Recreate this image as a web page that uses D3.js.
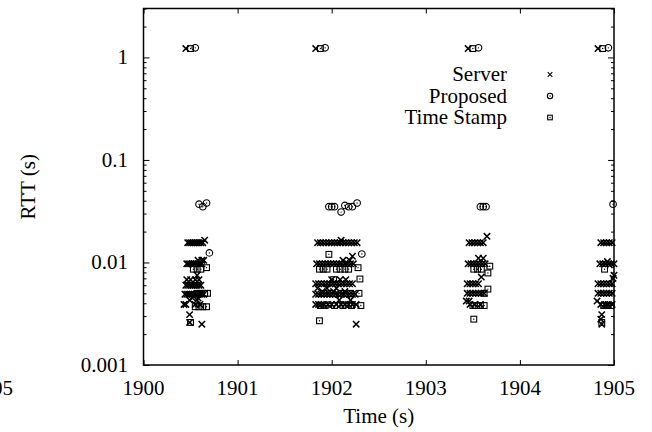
<!DOCTYPE html>
<html><head><meta charset="utf-8">
<script src="https://cdn.jsdelivr.net/npm/d3@7"></script>
<style>body{margin:0;background:#fff}svg{display:block}</style>
</head><body>
<svg id="c" width="652" height="432" font-family="'Liberation Serif', 'DejaVu Serif', 'Times New Roman', serif"></svg>
<script>
// ---- data ----
const xTicks = [1900, 1901, 1902, 1903, 1904, 1905];
const yTicks = [0.001, 0.01, 0.1, 1];
const yTickLabels = ["0.001", "0.01", "0.1", "1"];
const seriesNames = ["Server", "Proposed", "Time Stamp"];

const serverData = [
  // top
  [1900.45,1.22],[1901.83,1.22],[1903.45,1.22],[1904.83,1.22],
  // cluster 1
  [1900.47,0.0156],[1900.49,0.0156],[1900.51,0.0156],[1900.53,0.0156],[1900.55,0.0156],[1900.57,0.0156],[1900.59,0.0156],[1900.61,0.0156],[1900.63,0.0156],[1900.65,0.0165],
  [1900.46,0.0097],[1900.48,0.0097],[1900.50,0.0097],[1900.52,0.0097],[1900.54,0.0097],[1900.56,0.0097],[1900.58,0.0097],[1900.60,0.0097],[1900.62,0.0097],[1900.58,0.0105],[1900.62,0.0105],[1900.64,0.0105],
  [1900.46,0.0068],[1900.50,0.0068],[1900.55,0.0068],[1900.59,0.0068],[1900.57,0.0075],
  [1900.45,0.0060],[1900.47,0.0060],[1900.49,0.0060],[1900.51,0.0060],[1900.53,0.0060],[1900.55,0.0060],[1900.57,0.0060],[1900.59,0.0060],[1900.61,0.0060],
  [1900.44,0.0049],[1900.46,0.0049],[1900.48,0.0049],[1900.50,0.0049],[1900.52,0.0049],[1900.54,0.0049],[1900.56,0.0049],[1900.58,0.0049],[1900.60,0.0049],[1900.62,0.0049],[1900.64,0.0049],[1900.52,0.0045],[1900.58,0.0045],
  [1900.43,0.0039],[1900.45,0.0039],[1900.55,0.0039],[1900.60,0.0039],[1900.49,0.0043],[1900.57,0.0043],
  [1900.49,0.0031],[1900.49,0.0026],[1900.62,0.0025],
  // cluster 2
  [1901.85,0.0156],[1901.88,0.0156],[1901.91,0.0156],[1901.94,0.0156],[1901.97,0.0156],[1902.00,0.0156],[1902.03,0.0156],[1902.06,0.0156],[1902.09,0.0156],[1902.12,0.0156],[1902.15,0.0156],[1902.18,0.0156],[1902.21,0.0156],[1902.24,0.0156],[1902.27,0.0156],[1902.10,0.0165],
  [1901.84,0.0097],[1901.87,0.0097],[1901.90,0.0097],[1901.93,0.0097],[1901.96,0.0097],[1901.99,0.0097],[1902.02,0.0097],[1902.05,0.0097],[1902.08,0.0097],[1902.11,0.0097],[1902.14,0.0097],[1902.17,0.0097],[1902.20,0.0097],[1902.23,0.0097],[1902.12,0.0105],[1902.19,0.0105],[1902.22,0.0115],
  [1901.83,0.0062],[1901.86,0.0062],[1901.89,0.0062],[1901.92,0.0062],[1901.95,0.0062],[1901.98,0.0062],[1902.01,0.0062],[1902.04,0.0062],[1902.07,0.0062],[1902.10,0.0062],[1902.13,0.0062],[1902.16,0.0062],[1902.19,0.0062],[1902.22,0.0062],[1902.00,0.0068],[1902.09,0.0068],[1902.15,0.0068],[1901.85,0.0056],[1901.95,0.0056],[1902.05,0.0056],
  [1901.83,0.0049],[1901.86,0.0049],[1901.89,0.0049],[1901.92,0.0049],[1901.95,0.0049],[1901.98,0.0049],[1902.01,0.0049],[1902.04,0.0049],[1902.07,0.0049],[1902.10,0.0049],[1902.13,0.0049],[1902.16,0.0049],[1902.19,0.0049],[1902.22,0.0049],[1902.25,0.0049],[1901.90,0.0052],[1902.02,0.0052],[1902.14,0.0052],
  [1901.83,0.0039],[1901.86,0.0039],[1901.89,0.0039],[1901.92,0.0039],[1901.96,0.0039],[1902.00,0.0039],[1902.05,0.0039],[1902.10,0.0039],[1902.14,0.0039],[1902.18,0.0039],[1902.22,0.0039],[1902.26,0.0039],[1902.08,0.0043],[1902.20,0.0043],
  [1902.26,0.0025],
  // cluster 3
  [1903.46,0.0156],[1903.49,0.0156],[1903.52,0.0156],[1903.55,0.0156],[1903.58,0.0156],[1903.61,0.0156],[1903.65,0.0180],
  [1903.45,0.0097],[1903.48,0.0097],[1903.51,0.0097],[1903.54,0.0097],[1903.57,0.0097],[1903.60,0.0097],[1903.63,0.0097],[1903.56,0.0110],[1903.61,0.0110],
  [1903.44,0.0062],[1903.47,0.0062],[1903.50,0.0062],[1903.53,0.0062],[1903.56,0.0062],[1903.59,0.0072],
  [1903.44,0.0050],[1903.47,0.0050],[1903.50,0.0050],[1903.53,0.0050],[1903.56,0.0050],[1903.59,0.0050],[1903.62,0.0050],
  [1903.43,0.0042],[1903.46,0.0042],
  [1903.47,0.0039],[1903.52,0.0039],[1903.58,0.0039],
  // cluster 4
  [1904.86,0.0156],[1904.89,0.0156],[1904.92,0.0156],[1904.95,0.0156],[1904.98,0.0156],
  [1904.85,0.0097],[1904.88,0.0097],[1904.91,0.0097],[1904.94,0.0097],[1904.97,0.0097],[1905.00,0.0097],[1904.93,0.0102],
  [1904.83,0.0062],[1904.86,0.0062],[1904.89,0.0062],[1904.92,0.0062],[1904.95,0.0062],[1904.98,0.0062],[1904.99,0.0070],[1905.00,0.0075],
  [1904.83,0.0050],[1904.86,0.0050],[1904.89,0.0050],[1904.92,0.0050],[1904.95,0.0050],[1904.98,0.0050],
  [1904.82,0.0042],
  [1904.86,0.0039],[1904.90,0.0039],[1904.94,0.0039],[1904.98,0.0039],
  [1904.87,0.0031],[1904.86,0.0028],[1904.87,0.0025]
];

const proposedData = [
  [1900.55,1.24],[1901.93,1.24],[1903.56,1.24],[1904.94,1.24],
  [1900.59,0.037],[1900.63,0.035],[1900.67,0.038],[1900.70,0.0124],
  [1901.97,0.035],[1902.00,0.035],[1902.03,0.035],[1902.10,0.031],[1902.14,0.036],[1902.18,0.035],[1902.22,0.035],[1902.27,0.038],[1902.32,0.0121],
  [1903.58,0.035],[1903.61,0.035],[1903.64,0.035],
  [1904.99,0.037]
];

const timestampData = [
  [1900.50,1.22],[1901.88,1.22],[1903.50,1.22],[1904.88,1.22],
  [1900.53,0.0086],[1900.57,0.0086],[1900.61,0.0086],[1900.67,0.0089],
  [1900.57,0.0050],[1900.61,0.0050],[1900.65,0.0050],[1900.68,0.0050],
  [1900.55,0.0037],[1900.59,0.0037],[1900.63,0.0037],[1900.67,0.0037],
  [1900.50,0.0026],
  [1901.97,0.012],
  [1901.87,0.0086],[1901.91,0.0086],[1901.95,0.0086],[1902.05,0.0086],[1902.09,0.0086],[1902.14,0.0086],[1902.18,0.0086],[1902.28,0.0089],
  [1902.30,0.0069],[1902.02,0.0068],
  [1901.92,0.0050],[1902.00,0.0050],[1902.10,0.0050],[1902.20,0.0050],[1902.29,0.0050],
  [1901.88,0.0038],[1901.93,0.0038],[1902.03,0.0038],[1902.12,0.0038],[1902.21,0.0038],[1902.31,0.0038],
  [1901.87,0.0027],
  [1903.51,0.0086],[1903.55,0.0086],[1903.59,0.0086],[1903.68,0.0092],[1903.66,0.0079],
  [1903.66,0.0055],[1903.62,0.0050],
  [1903.50,0.0038],[1903.54,0.0038],[1903.58,0.0038],[1903.62,0.0038],
  [1903.51,0.0028],
  [1904.90,0.0086],
  [1904.89,0.0038],[1904.93,0.0038],[1904.97,0.0038],
  [1904.87,0.0026]
];

// ---- layout ----
const svg = d3.select("#c");
const FONT = "'Liberation Serif', 'DejaVu Serif', 'Times New Roman', serif";
const L = 143.5, R = 614, T = 8.5, B = 365;
const x = d3.scaleLinear().domain([1900, 1905]).range([L, R]);
const y = d3.scaleLog().domain([0.001, 3]).range([B, T]);
const FS = 21;

const minorY = [];
[0.001, 0.01, 0.1, 1].forEach(d => { for (let k = 2; k <= 9; k++) { const v = d * k; if (v <= 3) minorY.push(v); } });

const g = svg.append("g");
const leftMinor = d3.axisRight(y).tickValues(minorY).tickSize(3).tickFormat("");
const leftMajor = d3.axisRight(y).tickValues(yTicks).tickSize(6).tickFormat("");
const rightMinor = d3.axisLeft(y).tickValues(minorY).tickSize(3).tickFormat("");
const rightMajor = d3.axisLeft(y).tickValues(yTicks).tickSize(6).tickFormat("");
const botMajor = d3.axisTop(x).tickValues(xTicks).tickSize(5).tickFormat("");
const topMajor = d3.axisBottom(x).tickValues(xTicks).tickSize(5).tickFormat("");

[[leftMinor, `translate(${L},0)`], [leftMajor, `translate(${L},0)`],
 [rightMinor, `translate(${R},0)`], [rightMajor, `translate(${R},0)`],
 [botMajor, `translate(0,${B})`], [topMajor, `translate(0,${T})`]].forEach(([ax, tr]) => {
  const a = g.append("g").attr("transform", tr).call(ax);
  a.select(".domain").remove();
  a.selectAll("line").attr("stroke", "#000").attr("stroke-width", 1);
});

g.append("rect").attr("x", L).attr("y", T).attr("width", R - L).attr("height", B - T)
  .attr("fill", "none").attr("stroke", "#000").attr("stroke-width", 1.5);

function txt(sel) { return sel.attr("font-family", FONT).attr("font-size", FS).attr("fill", "#000"); }

g.selectAll(".yl").data(yTicks).enter().append("text")
  .attr("x", 128).attr("y", d => y(d)).attr("dy", "0.33em")
  .attr("text-anchor", "end").call(txt)
  .text((d, i) => yTickLabels[i]);

g.selectAll(".xl").data(xTicks).enter().append("text")
  .attr("x", d => x(d)).attr("y", 395)
  .attr("text-anchor", "middle").call(txt)
  .text(d => d);

// clipped label from a neighbouring figure (only "05" visible in the reference)
svg.append("text").attr("x", 13).attr("y", 395).attr("text-anchor", "end").call(txt).text("1905");

svg.append("text").attr("x", (L + R) / 2).attr("y", 423).attr("text-anchor", "middle").call(txt).text("Time (s)");
svg.append("text").attr("transform", `translate(35,${(T + B) / 2}) rotate(-90)`)
  .attr("text-anchor", "middle").call(txt).text("RTT (s)");

// markers
function drawCross(sel, s, w) {
  sel.append("path").attr("d", `M${-s},${-s}L${s},${s}M${-s},${s}L${s},${-s}`)
    .attr("stroke", "#000").attr("stroke-width", w).attr("fill", "none");
}
function drawCircle(sel, s) {
  sel.append("circle").attr("r", s + 0.4).attr("fill", "none").attr("stroke", "#000").attr("stroke-width", 1.1);
  sel.append("circle").attr("r", 0.7).attr("fill", "#000");
}
function drawSquare(sel, s) {
  sel.append("rect").attr("x", -s).attr("y", -s).attr("width", 2 * s).attr("height", 2 * s)
    .attr("fill", "none").attr("stroke", "#000").attr("stroke-width", 1.1);
  sel.append("circle").attr("r", 0.7).attr("fill", "#000");
}
const markers = [drawCross, drawCircle, drawSquare];
[serverData, proposedData, timestampData].forEach((data, i) => {
  const pts = svg.append("g").selectAll("g").data(data).enter().append("g")
    .attr("transform", d => `translate(${x(d[0])},${y(d[1])})`);
  markers[i](pts, i === 0 ? 3.2 : 2.9, 1.5);
});

const legY = [81, 102.5, 124];
seriesNames.forEach((n, i) => {
  svg.append("text").attr("x", 507).attr("y", legY[i]).attr("text-anchor", "end").call(txt).text(n);
  const m = svg.append("g").attr("transform", `translate(550,${legY[i] - 6.5})`);
  markers[i](m, 2.3, 1.1);
});
</script>
</body></html>
